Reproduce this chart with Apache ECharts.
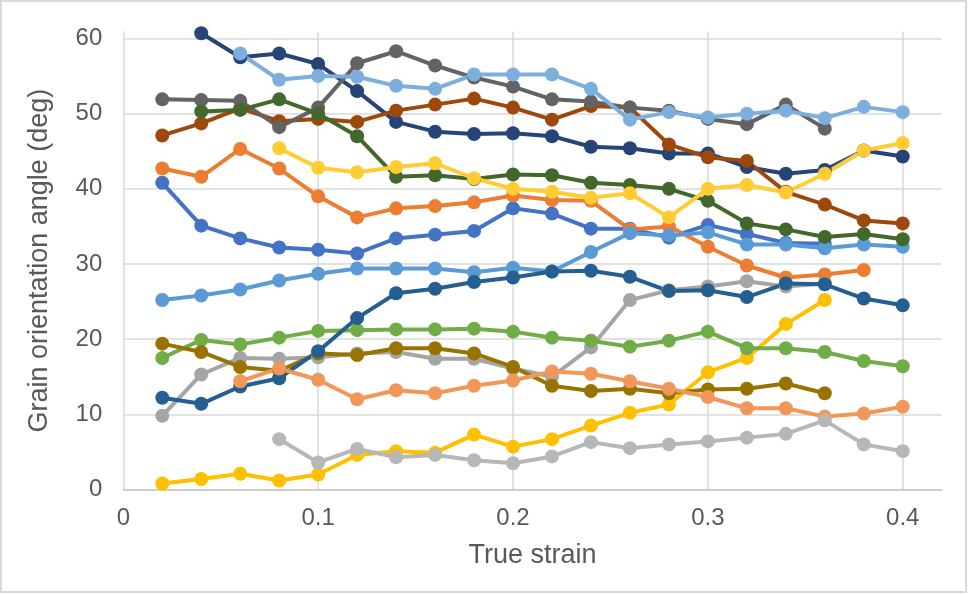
<!DOCTYPE html>
<html>
<head>
<meta charset="utf-8">
<script src="https://cdn.jsdelivr.net/npm/echarts@6/dist/echarts.min.js"></script>
<style>
  html, body { margin: 0; padding: 0; background: #ffffff; }
  #chart { width: 971px; height: 594px; }
</style>
</head>
<body>
<div id="chart"></div>
<script>
// True strain values (x)
const strain = [0.02,0.04,0.06,0.08,0.10,0.12,0.14,0.16,0.18,0.20,0.22,0.24,0.26,0.28,0.30,0.32,0.34,0.36,0.38,0.40];
const xTicks = ['0','0.1','0.2','0.3','0.4'];
const yTicks = ['0','10','20','30','40','50','60'];

// Grain orientation angle (deg) for each series
const s1  = [40.8,35.1,33.4,32.2,31.9,31.4,33.4,33.9,34.4,37.4,36.7,34.7,34.7,33.5,35.2,34.0,32.8,32.7,null,null];
const s2  = [42.7,41.6,45.3,42.7,39.0,36.2,37.4,37.7,38.2,39.1,38.5,38.4,34.6,35.0,32.3,29.8,28.2,28.6,29.2,null];
const s3  = [9.8,15.3,17.5,17.4,17.6,18.1,18.3,17.4,17.4,16.1,15.0,18.9,25.2,26.5,27.0,27.7,27.0,27.4,null,null];
const s4  = [0.8,1.4,2.1,1.2,2.0,4.6,5.1,4.9,7.3,5.7,6.7,8.5,10.2,11.3,15.6,17.5,22.0,25.2,null,null];
const s5  = [25.2,25.8,26.6,27.8,28.7,29.4,29.4,29.4,28.9,29.5,29.0,31.6,34.1,33.8,34.2,32.6,32.6,32.1,32.6,32.3];
const s6  = [17.5,19.9,19.3,20.2,21.1,21.2,21.3,21.3,21.4,21.0,20.2,19.8,19.0,19.8,21.0,18.8,18.8,18.3,17.1,16.4];
const s7  = [null,60.7,57.5,58.0,56.6,53.0,48.9,47.6,47.3,47.4,47.0,45.6,45.4,44.7,44.7,42.9,42.0,42.5,45.1,44.3];
const s8  = [47.1,48.7,50.7,49.0,49.3,48.9,50.4,51.2,52.0,50.8,49.2,51.0,50.8,45.9,44.2,43.7,39.6,37.9,35.8,35.4];
const s9  = [51.9,51.8,51.7,48.2,50.8,56.7,58.3,56.4,54.8,53.6,51.9,51.6,50.8,50.4,49.3,48.6,51.2,48.0,null,null];
const s10 = [19.4,18.3,16.3,15.8,18.1,17.9,18.8,18.8,18.1,16.3,13.8,13.1,13.4,12.8,13.3,13.4,14.1,12.8,null,null];
const s11 = [12.2,11.4,13.7,14.8,18.4,22.8,26.1,26.7,27.6,28.2,29.0,29.1,28.3,26.4,26.5,25.6,27.4,27.3,25.4,24.5];
const s12 = [null,50.3,50.5,51.9,50.0,47.0,41.6,41.8,41.3,41.9,41.8,40.8,40.5,40.0,38.4,35.4,34.6,33.6,34.0,33.3];
const s14 = [null,null,14.4,16.1,14.6,12.0,13.2,12.8,13.8,14.5,15.7,15.4,14.4,13.4,12.3,10.8,10.8,9.7,10.1,11.0];
const s15 = [null,null,null,6.7,3.6,5.4,4.3,4.6,3.9,3.5,4.4,6.3,5.5,6.0,6.4,6.9,7.4,9.2,6.0,5.1];
const s16 = [null,null,null,45.4,42.8,42.2,42.9,43.4,41.4,40.0,39.6,38.8,39.4,36.2,40.0,40.5,39.5,42.0,45.1,46.1];
const s17 = [null,null,58.0,54.5,55.0,54.9,53.7,53.3,55.2,55.2,55.2,53.3,49.2,50.2,49.5,50.0,50.4,49.4,50.9,50.2];

const seriesList = [
  ['Series1', s1, '#4472C4'],
  ['Series2', s2, '#ED7D31'],
  ['Series3', s3, '#A5A5A5'],
  ['Series4', s4, '#FFC000'],
  ['Series5', s5, '#5B9BD5'],
  ['Series6', s6, '#70AD47'],
  ['Series7', s7, '#264478'],
  ['Series8', s8, '#9E480E'],
  ['Series9', s9, '#636363'],
  ['Series10', s10, '#997300'],
  ['Series11', s11, '#255E91'],
  ['Series12', s12, '#43682B'],
  ['Series14', s14, '#F1975A'],
  ['Series15', s15, '#B7B7B7'],
  ['Series16', s16, '#FFCD33'],
  ['Series17', s17, '#7CAFDD']
];

const font = "'Liberation Sans', Arial, sans-serif";
const chart = echarts.init(document.getElementById('chart'), null, { renderer: 'canvas' });

chart.setOption({
  animation: false,
  backgroundColor: '#ffffff',
  graphic: [{
    type: 'rect',
    shape: { x: 1, y: 1, width: 965, height: 591 },
    style: { fill: 'none', stroke: '#d9d9d9', lineWidth: 2 },
    silent: true
  }],
  grid: {
    left: 123.3, right: 29.3, top: 31.7, bottom: 104.5,
    containLabel: false, outerBoundsMode: 'none'
  },
  xAxis: {
    type: 'value',
    min: 0, max: 0.42, interval: 0.1,
    name: 'True strain',
    nameLocation: 'middle',
    nameGap: 53,
    nameTextStyle: { fontFamily: font, fontSize: 27, color: '#595959' },
    axisLine: { show: true, lineStyle: { color: '#bfbfbf', width: 1.5 } },
    axisTick: { show: false },
    axisLabel: {
      fontFamily: font, fontSize: 24, color: '#595959', margin: 17,
      showMaxLabel: false,
      formatter: function (v) {
        const i = Math.round(v * 10);
        return xTicks[i] !== undefined ? xTicks[i] : '';
      }
    },
    splitLine: { show: true, showMinLine: false, showMaxLine: false, lineStyle: { color: '#d9d9d9', width: 1.5 } }
  },
  yAxis: {
    type: 'value',
    min: 0, max: 60.9, interval: 10,
    name: 'Grain orientation angle (deg)',
    nameLocation: 'middle',
    nameGap: 70,
    nameTextStyle: { fontFamily: font, fontSize: 27, color: '#595959' },
    axisLine: { show: true, lineStyle: { color: '#d9d9d9', width: 1.5 } },
    axisTick: { show: false },
    axisLabel: {
      fontFamily: font, fontSize: 24, color: '#595959', margin: 21,
      showMaxLabel: false,
      formatter: function (v) {
        const i = Math.round(v / 10);
        return yTicks[i] !== undefined ? yTicks[i] : '';
      }
    },
    splitLine: { show: true, showMinLine: false, showMaxLine: false, lineStyle: { color: '#d9d9d9', width: 1.5 } }
  },
  series: seriesList.map(function (s) {
    return {
      name: s[0],
      type: 'line',
      data: strain.map(function (x, i) { return s[1][i] === null ? [x, null] : [x, s[1][i]]; }),
      connectNulls: false,
      symbol: 'circle',
      symbolSize: 14,
      lineStyle: { color: s[2], width: 4 },
      itemStyle: { color: s[2] },
      emphasis: { disabled: true }
    };
  })
});
</script>
</body>
</html>
